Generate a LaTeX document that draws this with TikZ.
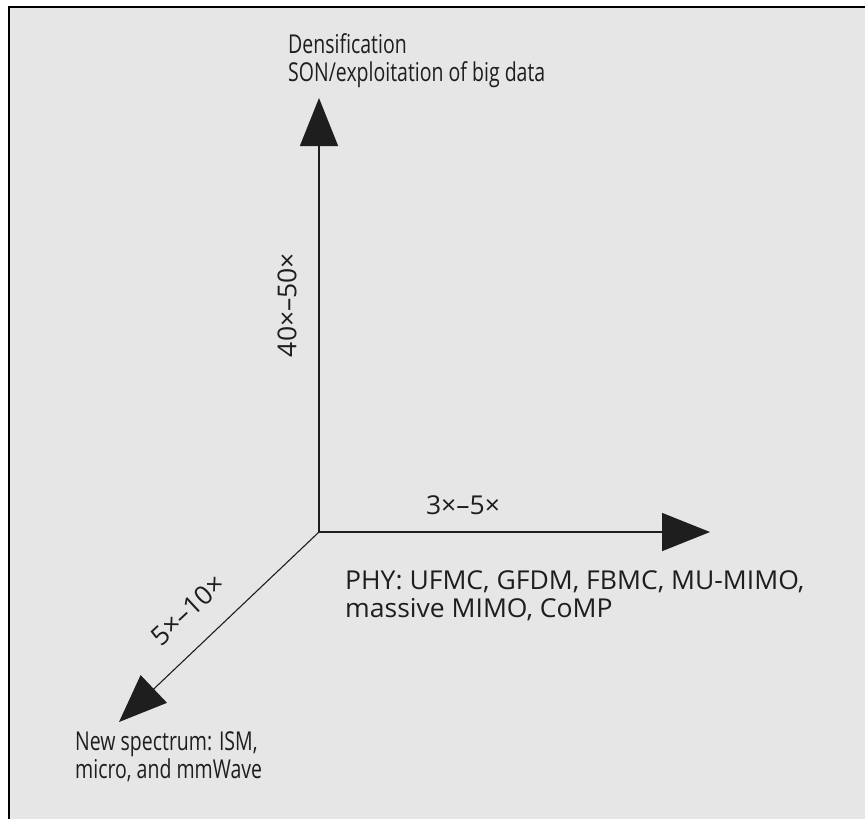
\documentclass[tikz,border=0pt]{standalone}
\usepackage{fontspec}
\setmainfont{Open Sans}
\newfontfamily\condfont[FakeStretch=0.75]{Open Sans}
\newfontfamily\widefont[FakeStretch=1.02]{Open Sans}
\usetikzlibrary{arrows.meta}

\definecolor{panelgray}{HTML}{E6E6E6}
\definecolor{inkgray}{HTML}{1E1E1E}

\tikzset{
  axis/.style={line width=1.5pt, draw=inkgray, -{Triangle[length=48pt,width=38pt]}},
  lbl/.style={inner sep=0pt, align=left, text=inkgray, font=\widefont\fontsize{26}{28}\selectfont},
  clbl/.style={lbl, font=\condfont\fontsize{26}{28}\selectfont}
}

\begin{document}
\begin{tikzpicture}[x=1pt,y=-1pt]
  \useasboundingbox (0,0) rectangle (865,819);
  \draw[line width=2.5pt, fill=panelgray] (9,7) rectangle (900,860);

  \coordinate (o) at (319,532);
  \coordinate (up) at (319,98);
  \coordinate (right) at (710,532);
  \coordinate (down) at (119,722);

  \draw[axis] (o) -- (up);
  \draw[axis] (o) -- (right);
  \draw[axis, line width=1.1pt] (o) -- (down);

  \node[clbl, anchor=north west] at (288,33) (dens) {Densification\\SON/exploitation of big data};
  \node[lbl, anchor=north west] at (345,570) (phy) {PHY: UFMC, GFDM, FBMC, MU-MIMO,\\massive MIMO, CoMP};
  \node[clbl, anchor=north west] at (75,731) (spec) {New spectrum: ISM,\\micro, and mmWave};

  \node[lbl, rotate=90] at (287,305) (vlab) {40×–50×};
  \node[lbl] at (463,505) (hlab) {3×–5×};
  \node[lbl, rotate=43] at (188,610) (dlab) {5×–10×};
\end{tikzpicture}
\end{document}
